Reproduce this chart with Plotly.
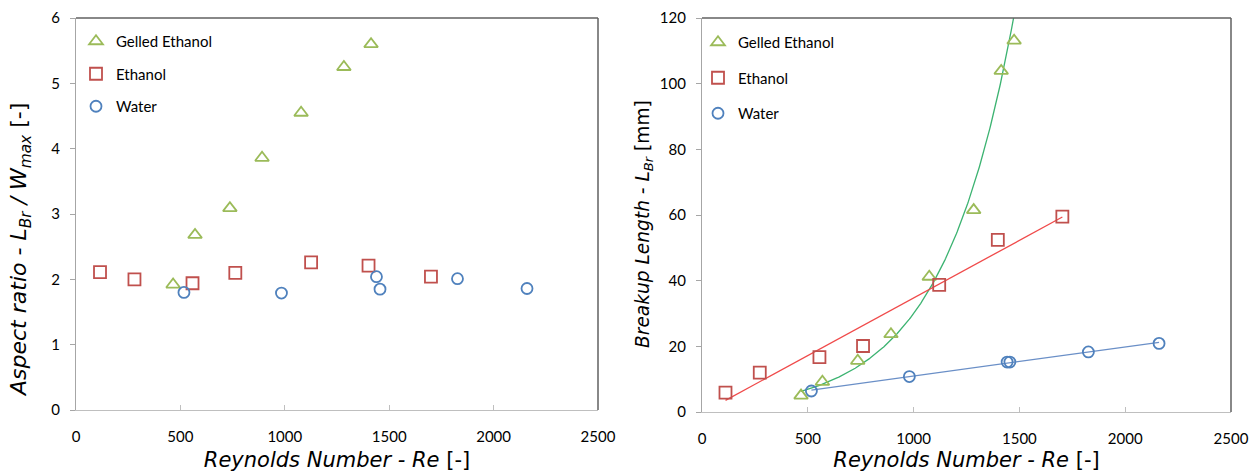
import numpy as np
import plotly.graph_objects as go

# ---------------- data ----------------
# Left panel: aspect ratio L_Br / W_max
gel_re_ar = [465, 570, 737, 891, 1078, 1283, 1413]
gel_ar = [1.92, 2.68, 3.09, 3.86, 4.55, 5.25, 5.60]
eth_re_ar = [115, 280, 558, 763, 1126, 1401, 1700]
eth_ar = [2.11, 2.00, 1.94, 2.10, 2.26, 2.21, 2.04]
wat_re_ar = [517, 984, 1439, 1456, 1827, 2160]
wat_ar = [1.80, 1.79, 2.04, 1.85, 2.01, 1.86]

# Right panel: breakup length L_Br [mm]
gel_re_l = [468, 569, 736, 893, 1074, 1284, 1414, 1475]
gel_l = [5.0, 9.2, 15.6, 23.7, 41.2, 61.5, 103.9, 113.1]
eth_re_l = [111, 273, 555, 761, 1121, 1398, 1703]
eth_l = [5.9, 12.0, 16.7, 20.1, 38.7, 52.4, 59.5]
wat_re_l = [517, 980, 1442, 1455, 1826, 2160]
wat_l = [6.4, 10.8, 15.2, 15.2, 18.3, 20.9]

x_ticks = [0, 500, 1000, 1500, 2000, 2500]
ar_ticks = [0, 1, 2, 3, 4, 5, 6]
l_ticks = [0, 20, 40, 60, 80, 100, 120]

names = ["Gelled Ethanol", "Ethanol", "Water"]
x_title = "<i>Reynolds Number - Re</i> [-]"
yl_title = "<i>Aspect ratio - L<sub>Br</sub> / W<sub>max</sub></i> [-]"
yr_title = "<i>Breakup Length - L<sub>Br</sub></i> [mm]"

# ---------------- styles ----------------
C_GEL = "#9BBB59"
C_ETH = "#C0504D"
C_WAT = "#4F81BD"
L_GEL = "#3CB371"
L_ETH = "#F04A4A"
L_WAT = "#6A8FC7"
FONT = "Lato"
TFONT = "DejaVu Sans"

# trendlines (least squares, like spreadsheet trendlines)
b_e, a_e = np.polyfit(eth_re_l, eth_l, 1)
ex_e = np.array([min(eth_re_l), max(eth_re_l)])
b_w, a_w = np.polyfit(wat_re_l, wat_l, 1)
ex_w = np.array([min(wat_re_l), max(wat_re_l)])
k_g, lnA_g = np.polyfit(gel_re_l, np.log(gel_l), 1)
ex_g = np.linspace(min(gel_re_l), max(gel_re_l), 300)

fig = go.Figure()

marker_style = {
    names[0]: dict(symbol="triangle-up-open", size=12, color=C_GEL, line=dict(width=1.8, color=C_GEL)),
    names[1]: dict(symbol="square-open", size=12, color=C_ETH, line=dict(width=1.8, color=C_ETH)),
    names[2]: dict(symbol="circle-open", size=11, color=C_WAT, line=dict(width=1.8, color=C_WAT)),
}

# Left panel markers
for nm, xs, ys in [(names[0], gel_re_ar, gel_ar), (names[1], eth_re_ar, eth_ar), (names[2], wat_re_ar, wat_ar)]:
    fig.add_trace(go.Scatter(x=xs, y=ys, mode="markers", name=nm, marker=marker_style[nm],
                             xaxis="x", yaxis="y", legend="legend", legendgroup="L" + nm,
                             showlegend=True))

# Right panel trendlines
fig.add_trace(go.Scatter(x=ex_g, y=np.exp(lnA_g) * np.exp(k_g * ex_g), mode="lines",
                         line=dict(color=L_GEL, width=1.3), xaxis="x2", yaxis="y2", showlegend=False,
                         hoverinfo="skip"))
fig.add_trace(go.Scatter(x=ex_e, y=a_e + b_e * ex_e, mode="lines",
                         line=dict(color=L_ETH, width=1.3), xaxis="x2", yaxis="y2", showlegend=False,
                         hoverinfo="skip"))
fig.add_trace(go.Scatter(x=ex_w, y=a_w + b_w * ex_w, mode="lines",
                         line=dict(color=L_WAT, width=1.3), xaxis="x2", yaxis="y2", showlegend=False,
                         hoverinfo="skip"))

# Right panel markers
for nm, xs, ys in [(names[0], gel_re_l, gel_l), (names[1], eth_re_l, eth_l), (names[2], wat_re_l, wat_l)]:
    fig.add_trace(go.Scatter(x=xs, y=ys, mode="markers", name=nm, marker=marker_style[nm],
                             xaxis="x2", yaxis="y2", legend="legend2", legendgroup="R" + nm,
                             showlegend=True))

# body margin is removed in the page (see post_script) -> figure at (0, 0)
OFF = 0
W, H = 1250 - OFF, 472 - OFF


def px(x):
    return (x - OFF) / W


def py(y):
    return (H - (y - OFF)) / H


ax_common = dict(showgrid=False, zeroline=False, showline=True, linecolor="#BFBFBF", linewidth=1.2,
                 tickfont=dict(family=FONT, size=15, color="#000000"), ticks="inside",
                 ticklen=5, tickcolor="#BFBFBF", range=[0, 2500], tickvals=x_ticks,
                 ticklabelstandoff=13, automargin=False,
                 title=dict(text=x_title, standoff=12,
                            font=dict(family=TFONT, size=21, color="#000000")))
y_common = dict(showgrid=False, zeroline=False, showline=True, linecolor="#A6A6A6", linewidth=1.2,
                tickfont=dict(family=FONT, size=15, color="#000000"), ticks="outside",
                ticklen=5, tickcolor="#A6A6A6", ticklabelstandoff=7, automargin=False)

xl = (px(76), px(598))
xr = (px(702), px(1231))
yl = (py(410), py(18))
yr = (py(412), py(18))

fig.update_layout(
    width=W, height=H, margin=dict(l=0, r=0, t=0, b=0, autoexpand=False),
    paper_bgcolor="white", plot_bgcolor="white",
    font=dict(family=FONT, color="#000000"),
    xaxis=dict(ax_common, domain=xl, anchor="y"),
    yaxis=dict(y_common, domain=yl, anchor="x", range=[0, 6], tickvals=ar_ticks),
    xaxis2=dict(ax_common, domain=xr, anchor="y2"),
    yaxis2=dict(y_common, domain=yr, anchor="x2", range=[0, 120], tickvals=l_ticks),
    legend=dict(x=px(76), y=py(25), xanchor="left", yanchor="top", bgcolor="rgba(0,0,0,0)",
                font=dict(family=FONT, size=15, color="#000000"), traceorder="grouped",
                tracegroupgap=10),
    legend2=dict(x=px(698), y=py(26), xanchor="left", yanchor="top", bgcolor="rgba(0,0,0,0)",
                 font=dict(family=FONT, size=15, color="#000000"), traceorder="grouped",
                 tracegroupgap=13),
    showlegend=True,
)

# y-axis titles placed as in the reference
fig.add_annotation(text=yl_title, xref="paper", yref="paper", x=px(21), y=py(250),
                   xanchor="center", yanchor="middle", textangle=-90, showarrow=False,
                   font=dict(family=TFONT, size=22, color="#000000"))
fig.add_annotation(text=yr_title, xref="paper", yref="paper", x=px(644), y=py(224),
                   xanchor="center", yanchor="middle", textangle=-90, showarrow=False,
                   font=dict(family=TFONT, size=18.6, color="#000000"))

# darker top/right frame lines
for xa, ya in [("x", "y"), ("x2", "y2")]:
    fig.add_shape(type="line", xref=f"{xa} domain", yref=f"{ya} domain", x0=0, x1=1, y0=1, y1=1,
                  line=dict(color="#606060", width=1.5))
    fig.add_shape(type="line", xref=f"{xa} domain", yref=f"{ya} domain", x0=1, x1=1, y0=0, y1=1,
                  line=dict(color="#606060", width=1.5))

fig.write_html("out.html", config={"displayModeBar": False},
               post_script="document.body.style.margin='0px';document.body.style.overflow='hidden';")
